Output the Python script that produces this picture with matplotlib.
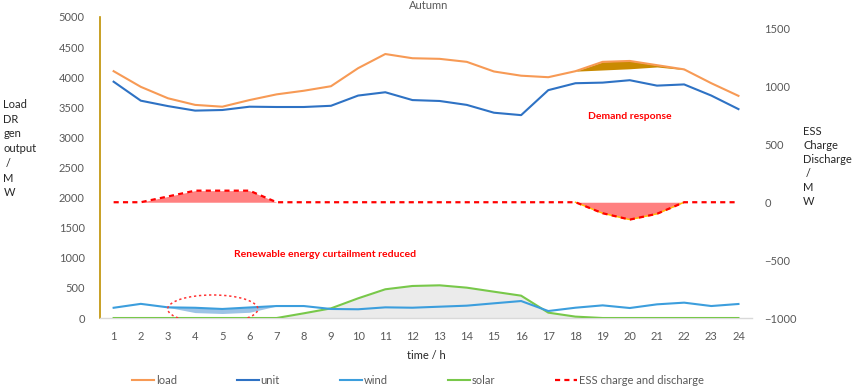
import numpy as np
import matplotlib
matplotlib.use("Agg")
import matplotlib.pyplot as plt
from matplotlib.patches import Ellipse

plt.rcParams["font.family"] = ["Lato", "DejaVu Sans"]

# ------------------------------------------------------------------ data
hours = list(range(1, 25))
load = [4100, 3840, 3650, 3540, 3510, 3620, 3715, 3775, 3850, 4150, 4385, 4315,
        4305, 4255, 4095, 4025, 4000, 4100, 4255, 4270, 4200, 4130, 3900, 3690]
# load after demand response, hours 18-22
dr_hours = [18, 19, 20, 21, 22]
load_dr = [4100, 4120, 4140, 4170, 4125]
unit = [3925, 3610, 3520, 3445, 3455, 3510, 3505, 3505, 3525, 3695, 3750, 3620,
        3605, 3540, 3410, 3370, 3785, 3900, 3910, 3950, 3860, 3880, 3695, 3470]
wind = [170, 235, 177, 170, 150, 175, 199, 199, 150, 145, 177, 171,
        188, 205, 244, 282, 116, 171, 210, 166, 227, 255, 199, 233]
# wind before curtailment was reduced, hours 3-7
cur_hours = [3, 4, 5, 6, 7]
wind_cur = [177, 90, 75, 95, 199]
solar = [0, 0, 0, 0, 0, 0, 0, 78, 160, 327, 477, 532,
         543, 504, 437, 371, 89, 23, 0, 0, 0, 0, 0, 0]
ess = [0, 0, 50, 100, 100, 100, 0, 0, 0, 0, 0, 0,
       0, 0, 0, 0, 0, 0, -95, -150, -100, 0, 0, 0]

C_LOAD = "#F79A55"
C_UNIT = "#2E72C4"
C_WIND = "#3C9EDD"
C_SOLAR = "#78C84A"
C_ESS = "#FF0000"
TICK = "#595959"

fig = plt.figure(figsize=(8.58, 3.89), dpi=100)
ax = fig.add_axes([0.1166, 0.1825, 0.7599, 0.7738])
ax2 = ax.twinx()

# grey area under solar, then wind / solar lines
ax.fill_between(hours, 0, solar, color="#EBEBEB", lw=0, zorder=1)
ax.fill_between(cur_hours, wind_cur, [wind[h - 1] for h in cur_hours],
                color="#9DC3E6", lw=0, zorder=2)
ax.fill_between(dr_hours, load_dr, [load[h - 1] for h in dr_hours],
                color="#C98A00", lw=0, zorder=2)
l_load, = ax.plot(hours, load, color=C_LOAD, lw=1.5, zorder=4, label="load")
l_unit, = ax.plot(hours, unit, color=C_UNIT, lw=1.5, zorder=4, label="unit")
l_wind, = ax.plot(hours, wind, color=C_WIND, lw=1.5, zorder=4, label="wind")
l_solar, = ax.plot(hours, solar, color=C_SOLAR, lw=1.5, zorder=3, label="solar")

ax2.fill_between(hours, 0, ess, color="#FF8080", lw=0, zorder=1)
# thin yellow edge under the discharge part
ax2.plot(dr_hours, [ess[h - 1] for h in dr_hours], color="#FFC000", lw=1.0, zorder=2)
l_ess, = ax2.plot(hours, ess, color=C_ESS, lw=1.6, dashes=(2.3, 1.9), zorder=3,
                  label="ESS charge and discharge")

# curtailment ellipse
ax.add_patch(Ellipse((4.65, 150), 3.32, 465, fill=False, ec="#FF3333",
                     lw=1.1, ls=(0, (1.5, 1.8)), zorder=5))

ax.text(20.0, 3355, "Demand response", color="#FF0000", fontsize=7.5,
        fontweight="bold", ha="center", va="center")
ax.text(8.77, 1063, "Renewable energy curtailment reduced", color="#FF0000",
        fontsize=7.5, fontweight="bold", ha="center", va="center")

ax.set_xlim(0.5, 24.5)
ax.set_ylim(0, 5000)
ax2.set_ylim(-1000, 1600)
ax.set_xticks(hours)
ax.set_yticks(range(0, 5001, 500))
ax2.set_yticks(range(-1000, 1501, 500))
ax.tick_params(axis="x", length=0, pad=9, labelsize=8, labelcolor=TICK)
ax.tick_params(axis="y", length=0, pad=11, labelsize=8, labelcolor=TICK)
ax2.tick_params(axis="y", length=0, pad=9, labelsize=8, labelcolor=TICK)

for a in (ax, ax2):
    for side in ("top", "right", "left", "bottom"):
        a.spines[side].set_visible(False)
ax.spines["left"].set_visible(True)
ax.spines["left"].set_color("#BF9000")
ax.spines["left"].set_linewidth(1.2)
ax.spines["bottom"].set_visible(True)
ax.spines["bottom"].set_color("#D9D9D9")
ax.spines["bottom"].set_linewidth(1.0)

ax.set_xlabel("time / h", fontsize=8, color="#262626", labelpad=6)
fig.text(0.5, 0.987, "Autumn", fontsize=8, color=TICK, ha="center", va="center")
fig.text(0.004, 0.618, "Load\nDR\ngen\noutput\n /\nM\nW", fontsize=8, color="#262626",
         ha="left", va="center", linespacing=1.42)
fig.text(0.936, 0.572, "ESS\nCharge\nDischarge\n /\nM\nW", fontsize=8, color="#262626",
         ha="left", va="center", linespacing=1.35)

fig.legend(handles=[l_load, l_unit, l_wind, l_solar, l_ess], loc="center",
           bbox_to_anchor=(0.487, 0.022), ncol=5, frameon=False, fontsize=8,
           handlelength=2.0, handletextpad=0.15, columnspacing=5.4,
           labelcolor=TICK)

fig.savefig("out.png", dpi=100)
